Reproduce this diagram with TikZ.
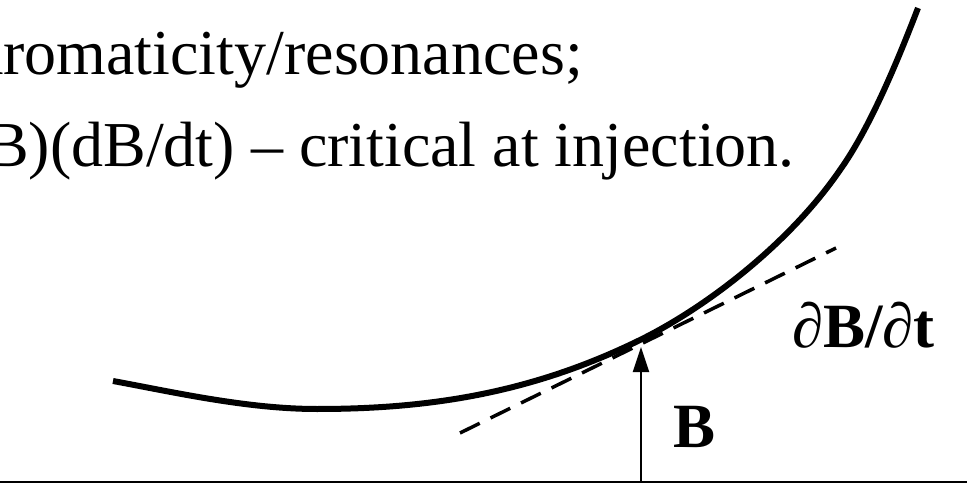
\documentclass[tikz,border=0pt]{standalone}
\usepackage{fontspec}
\setmainfont{Liberation Serif}
\usetikzlibrary{arrows.meta}
\begin{document}
\begin{tikzpicture}[x=1pt,y=-1pt,
  txt/.style={font=\fontsize{64}{70}\selectfont, inner sep=0pt},
  lbl/.style={font=\fontsize{63}{70}\selectfont\bfseries, inner sep=0pt},
  curvestyle/.style={line width=6pt},
  tangent/.style={line width=3.5pt, dash pattern=on 22pt off 12pt},
  axisline/.style={line width=2pt},
  arrowline/.style={line width=2pt, -{Triangle[length=25pt,width=16pt]}}]
\useasboundingbox (0,0) rectangle (970,484);
\clip (0,0) rectangle (970,484);
\node[txt, anchor=base east] (l1) at (583,75) {aromaticity/resonances;};
\node[txt, anchor=base east] (l2) at (795,167) {B)(dB/dt) – critical at injection.};
\draw[curvestyle] (113,381) .. controls (173,392) and (247,409) .. (317,409)
  .. controls (427,409) and (530,394) .. (640,340)
  .. controls (707,307) and (790,243) .. (840,170)
  .. controls (870,128) and (898,60) .. (918,8);
\coordinate (t1) at (460,433);
\coordinate (t2) at (836,248);
\draw[tangent] (t1) -- (t2);
\coordinate (a0) at (0,482);
\coordinate (a1) at (967,482);
\draw[axisline] (a0) -- (a1);
\coordinate (ab) at (641,482);
\coordinate (at) at (641,347);
\draw[arrowline] (ab) -- (at);
\node[lbl, anchor=base west] (dbdt) at (792,347) {∂B/∂t};
\node[lbl, anchor=base west] (b) at (673,447) {B};
\end{tikzpicture}
\end{document}
